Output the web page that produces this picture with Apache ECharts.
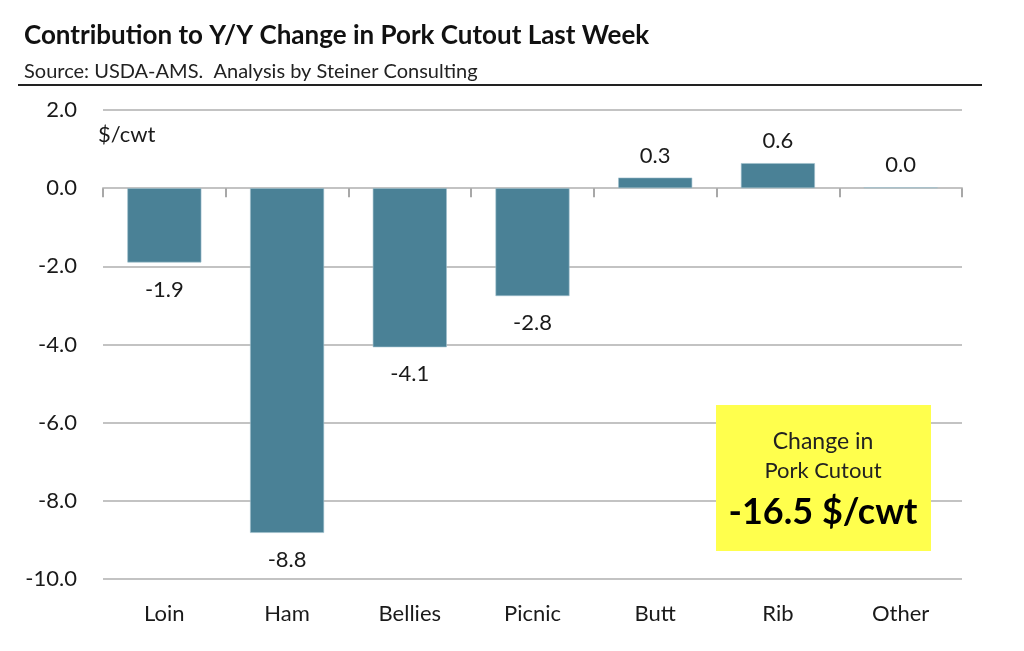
<!DOCTYPE html>
<html>
<head>
<meta charset="utf-8">
<script src="https://cdn.jsdelivr.net/npm/echarts@6/dist/echarts.min.js"></script>
<style>
    html, body { margin: 0; padding: 0; background: #fff; }
    #chart { width: 1024px; height: 651px; }
</style>
</head>
<body>
<div id="chart"></div>
<script>
// 品类
var categories = ['Loin', 'Ham', 'Bellies', 'Picnic', 'Butt', 'Rib', 'Other'];
// 对同比变化的贡献, $/cwt
var contribution = [-1.9, -8.82, -4.07, -2.76, 0.27, 0.64, 0.02];
// y 轴刻度
var yTicks = [-10, -8, -6, -4, -2, 0, 2];
var totalChange = -16.5;

(function(){
    var font = 'Lato';
    var textColor = '#1a1a1a';
    var gridColor = '#c3c3c3';

    var myChart = echarts.init(document.getElementById('chart'));

    // 柱子数据, 负数标签放在下面
    var barData = contribution.map(function(v){
        return {
            value: v,
            label: {
                position: v < 0 ? 'bottom' : 'top',
                distance: v < 0 ? 14 : 9
            }
        };
    });

    var config = {
        animation: false,
        title: {
            left: 24,
            top: 21,
            padding: 0,
            itemGap: 10,
            text: 'Contribution to Y/Y Change in Pork Cutout Last Week',
            subtext: 'Source: USDA-AMS.  Analysis by Steiner Consulting',
            textStyle: {
                fontFamily: font,
                fontWeight: 'bold',
                fontSize: 26,
                lineHeight: 30,
                color: '#111'
            },
            subtextStyle: {
                fontFamily: font,
                fontSize: 20,
                lineHeight: 22,
                color: '#222'
            }
        },
        grid: {
            left: 103,
            right: 62,
            top: 110,
            bottom: 72
        },
        xAxis: [{
            // 底部的类别标签
            type: 'category',
            data: categories,
            position: 'bottom',
            axisLine: { show: false, onZero: false },
            axisTick: { show: false },
            axisLabel: {
                margin: 24,
                fontFamily: font,
                fontSize: 22,
                color: textColor
            }
        }, {
            // 零线和刻度
            type: 'category',
            data: categories,
            position: 'bottom',
            axisLine: {
                onZero: true,
                lineStyle: { color: gridColor, width: 2 }
            },
            axisTick: {
                show: true,
                length: 9,
                lineStyle: { color: '#a8a8a8', width: 2 }
            },
            axisLabel: { show: false }
        }],
        yAxis: {
            type: 'value',
            min: yTicks[0],
            max: yTicks[yTicks.length - 1],
            interval: 2,
            axisLine: { show: false },
            axisTick: { show: false },
            splitLine: {
                lineStyle: { color: gridColor, width: 2 }
            },
            axisLabel: {
                margin: 26,
                fontFamily: font,
                fontSize: 22,
                color: textColor,
                formatter: function(v){
                    return v.toFixed(1);
                }
            }
        },
        series: [{
            type: 'bar',
            xAxisIndex: 0,
            barWidth: 74,
            itemStyle: {
                color: '#4a8196',
                borderColor: '#9fc0cc',
                borderWidth: 0.6
            },
            label: {
                show: true,
                fontFamily: font,
                fontSize: 22,
                color: textColor,
                backgroundColor: '#fff',
                padding: [2, 4],
                formatter: function(p){
                    return p.value.toFixed(1);
                }
            },
            data: barData
        }],
        graphic: [{
            // 标题下的黑线
            type: 'line',
            shape: { x1: 18, y1: 85, x2: 982, y2: 85 },
            style: { stroke: '#222', lineWidth: 2 }
        }, {
            type: 'text',
            left: 98,
            top: 124,
            style: {
                text: '$/cwt',
                fontFamily: font,
                fontSize: 22,
                fill: textColor
            }
        }, {
            // 黄色汇总框
            type: 'group',
            left: 716,
            top: 405,
            z: 100,
            children: [{
                type: 'rect',
                z: 100,
                shape: { x: 0, y: 0, width: 215, height: 146 },
                style: { fill: '#ffff4d' }
            }, {
                type: 'text',
                z: 101,
                x: 107,
                y: 37,
                style: {
                    text: 'Change in',
                    align: 'center',
                    verticalAlign: 'middle',
                    fontFamily: font,
                    fontSize: 23,
                    fill: '#222'
                }
            }, {
                type: 'text',
                z: 101,
                x: 107,
                y: 66,
                style: {
                    text: 'Pork Cutout',
                    align: 'center',
                    verticalAlign: 'middle',
                    fontFamily: font,
                    fontSize: 22,
                    fill: '#222'
                }
            }, {
                type: 'text',
                z: 101,
                x: 107,
                y: 107,
                style: {
                    text: totalChange.toFixed(1) + ' $/cwt',
                    align: 'center',
                    verticalAlign: 'middle',
                    fontFamily: font,
                    fontWeight: 'bold',
                    fontSize: 36,
                    fill: '#000'
                }
            }]
        }]
    };

    myChart.setOption(config);
})();
</script>
</body>
</html>
